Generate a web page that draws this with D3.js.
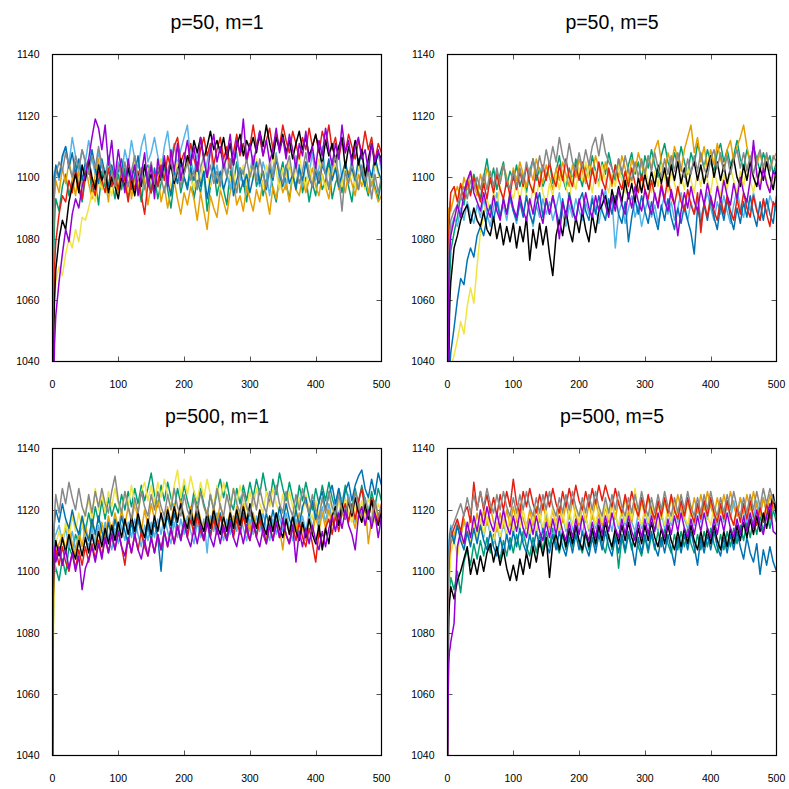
<!DOCTYPE html>
<html><head><meta charset="utf-8">
<script src="https://cdn.jsdelivr.net/npm/d3@7/dist/d3.min.js"></script>
<style>body{margin:0;background:#fff}svg{display:block}</style>
</head><body>
<script>
// shared x steps: 0..4 then every 5 to 500
const steps = [0,1,2,3,4].concat(d3.range(5, 501, 5));
const panelTitles = ["p=50, m=1", "p=50, m=5", "p=500, m=1", "p=500, m=5"];
const xTicks = [0,100,200,300,400,500];
const yTicks = [1040,1060,1080,1100,1120,1140];
const seriesNames = ["green","skyblue","orange","yellow","blue","red","black","gray","purple"];
const seriesColors = ["#009e73","#56b4e9","#e69f00","#f0e442","#0072b2","#e51e10","#000000","#888888","#9400d3"];

// ---- panel 1: p=50, m=1 ----
const p1_green = [1030,1060,1075,1085,1090,
1093,1089,1097,1101,1094,1099,1105,1096,1092,1100,
1104,1095,1099,1091,1102,1097,1106,1099,1093,1101,
1096,1103,1094,1099,1107,1098,1092,1100,1104,1095,
1101,1093,1098,1104,1096,1090,1099,1103,1095,1100,
1097,1104,1093,1099,1095,1102,1089,1097,1103,1094,
1100,1096,1091,1102,1098,1105,1095,1099,1092,1101,
1106,1097,1101,1094,1099,1103,1096,1092,1100,1105,
1098,1093,1101,1097,1104,1095,1100,1092,1098,1094,
1102,1096,1099,1105,1093,1098,1101,1095,1103,1097,
1092,1100,1096,1103,1098,1094,1101,1097,1093,1099];
const p1_skyblue = [1090,1099,1100,1102,1100,
1103,1099,1106,1110,1104,1113,1107,1102,1109,1105,
1112,1106,1101,1108,1104,1099,1107,1102,1097,1105,
1101,1109,1104,1112,1106,1103,1110,1114,1105,1108,
1113,1107,1102,1110,1115,1106,1111,1104,1109,1113,
1117,1106,1101,1108,1103,1099,1105,1110,1100,1104,
1098,1106,1101,1096,1104,1108,1099,1103,1095,1102,
1107,1100,1097,1105,1101,1094,1103,1108,1099,1102,
1096,1104,1100,1107,1102,1097,1105,1101,1108,1099,
1103,1110,1101,1097,1106,1102,1108,1099,1104,1100,
1106,1098,1103,1109,1101,1105,1097,1104,1108,1102];
const p1_orange = [1050,1080,1090,1094,1096,
1099,1095,1103,1098,1105,1100,1094,1102,1097,1104,
1098,1093,1101,1106,1096,1100,1092,1103,1098,1095,
1102,1097,1104,1093,1100,1096,1103,1099,1091,1098,
1095,1101,1092,1097,1090,1096,1099,1093,1088,1095,
1091,1097,1093,1086,1095,1089,1083,1094,1090,1087,
1096,1092,1088,1095,1099,1091,1094,1089,1097,1093,
1089,1096,1092,1099,1094,1088,1097,1093,1100,1095,
1098,1092,1101,1096,1094,1100,1095,1099,1103,1097,
1094,1101,1097,1093,1100,1104,1096,1099,1095,1102,
1098,1094,1101,1097,1103,1095,1099,1096,1092,1094];
const p1_yellow = [1020,1045,1055,1060,1063,
1066,1071,1068,1075,1080,1077,1083,1079,1087,1086,
1090,1095,1092,1099,1096,1103,1098,1094,1101,1097,
1104,1099,1095,1102,1106,1098,1101,1096,1103,1099,
1095,1102,1106,1099,1103,1097,1100,1105,1098,1102,
1107,1100,1096,1103,1099,1105,1101,1097,1104,1100,
1096,1103,1107,1099,1102,1095,1101,1104,1098,1103,
1099,1106,1101,1097,1104,1100,1108,1102,1096,1103,
1100,1105,1098,1103,1107,1101,1097,1104,1099,1102,
1106,1100,1096,1103,1099,1105,1101,1097,1104,1098,
1102,1097,1104,1100,1096,1103,1099,1105,1101,1098];
const p1_blue = [1040,1080,1095,1100,1102,
1104,1100,1107,1110,1103,1108,1101,1106,1099,1105,
1102,1109,1103,1098,1106,1101,1097,1104,1099,1102,
1106,1099,1103,1096,1101,1107,1098,1104,1100,1095,
1103,1097,1101,1106,1099,1094,1102,1098,1105,1100,
1096,1103,1099,1105,1097,1102,1093,1100,1104,1098,
1102,1096,1100,1106,1094,1099,1103,1097,1101,1095,
1100,1105,1098,1102,1096,1103,1099,1106,1101,1097,
1104,1098,1101,1096,1103,1099,1105,1100,1097,1102,
1098,1104,1101,1106,1099,1103,1097,1101,1105,1100,
1103,1099,1106,1101,1097,1104,1100,1107,1102,1099];
const p1_red = [1010,1040,1060,1070,1075,
1079,1088,1094,1092,1099,1095,1102,1097,1093,1101,
1105,1098,1094,1102,1099,1095,1103,1097,1101,1096,
1103,1099,1092,1100,1096,1102,1094,1088,1098,1095,
1101,1097,1104,1099,1107,1103,1110,1113,1105,1108,
1104,1111,1106,1102,1109,1113,1107,1111,1104,1109,
1113,1106,1110,1103,1108,1114,1107,1111,1105,1110,
1117,1110,1113,1107,1112,1116,1109,1114,1110,1117,
1112,1108,1115,1111,1106,1113,1109,1116,1110,1114,
1108,1115,1111,1117,1109,1113,1106,1112,1108,1114,
1110,1106,1112,1108,1115,1109,1113,1105,1111,1108];
const p1_black = [1000,1030,1050,1060,1065,
1070,1080,1086,1083,1092,1097,1101,1095,1104,1099,
1106,1100,1096,1104,1099,1102,1095,1100,1097,1093,
1100,1097,1103,1099,1094,1101,1097,1104,1098,1101,
1096,1103,1099,1105,1100,1104,1098,1102,1106,1101,
1107,1104,1112,1108,1113,1106,1110,1115,1109,1112,
1108,1113,1106,1111,1104,1110,1114,1107,1112,1109,
1113,1108,1115,1110,1117,1111,1106,1113,1109,1114,
1108,1112,1106,1111,1115,1109,1113,1107,1110,1114,
1109,1104,1112,1107,1111,1105,1110,1113,1103,1110,
1106,1112,1104,1109,1100,1106,1111,1104,1108,1106];
const p1_gray = [1040,1075,1090,1096,1099,
1101,1105,1102,1108,1104,1100,1107,1103,1109,1105,
1101,1107,1103,1110,1104,1099,1106,1102,1097,1104,
1100,1105,1097,1102,1107,1099,1103,1096,1101,1105,
1098,1103,1100,1095,1102,1106,1099,1103,1097,1101,
1105,1099,1102,1096,1103,1107,1100,1104,1098,1102,
1097,1104,1100,1106,1099,1095,1103,1101,1106,1100,
1104,1099,1106,1101,1097,1105,1100,1107,1102,1098,
1103,1107,1100,1104,1098,1102,1108,1101,1097,1104,
1099,1105,1101,1096,1103,1107,1100,1089,1102,1098,
1105,1100,1096,1104,1099,1102,1093,1101,1095,1100];
const p1_purple = [1000,1020,1035,1045,1050,
1055,1066,1075,1083,1079,1088,1093,1090,1097,1101,
1106,1113,1119,1116,1109,1117,1104,1112,1100,1109,
1102,1095,1106,1099,1104,1094,1101,1108,1097,1104,
1093,1106,1100,1107,1097,1109,1102,1111,1099,1106,
1112,1104,1110,1102,1113,1106,1100,1109,1114,1105,
1110,1103,1107,1114,1104,1112,1108,1119,1106,1111,
1104,1110,1115,1107,1112,1105,1109,1116,1108,1113,
1106,1114,1109,1103,1111,1107,1115,1105,1110,1103,
1112,1107,1116,1109,1104,1111,1106,1117,1108,1112,
1104,1110,1113,1106,1109,1102,1111,1105,1109,1104];

// ---- panel 2: p=50, m=5 ----
const p2_green = [1000,1030,1050,1065,1070,
1076,1082,1087,1094,1091,1098,1095,1101,1097,1093,
1100,1106,1098,1103,1096,1101,1105,1097,1102,1099,
1104,1097,1101,1095,1102,1106,1099,1103,1097,1100,
1105,1098,1102,1107,1100,1096,1103,1099,1106,1101,
1097,1104,1100,1107,1102,1098,1105,1101,1108,1103,
1099,1106,1102,1097,1104,1108,1101,1105,1099,1107,
1103,1109,1104,1100,1107,1111,1105,1102,1108,1104,
1110,1105,1101,1108,1104,1111,1107,1103,1109,1105,
1102,1108,1111,1105,1109,1104,1107,1112,1106,1103,
1109,1105,1110,1106,1102,1108,1104,1107,1101,1105];
const p2_skyblue = [1020,1050,1065,1075,1080,
1083,1087,1084,1090,1086,1092,1088,1085,1091,1087,
1093,1088,1084,1090,1095,1087,1091,1086,1093,1089,
1085,1092,1088,1094,1089,1084,1091,1087,1093,1088,
1092,1086,1090,1095,1088,1084,1091,1087,1093,1089,
1086,1092,1088,1094,1090,1085,1091,1096,1089,1093,
1077,1088,1092,1085,1090,1094,1087,1091,1084,1089,
1093,1087,1091,1085,1090,1094,1088,1092,1086,1090,
1095,1089,1086,1092,1088,1093,1087,1091,1095,1090,
1086,1092,1088,1094,1089,1085,1091,1096,1090,1087,
1093,1089,1095,1090,1086,1092,1088,1094,1091,1089];
const p2_orange = [1060,1085,1090,1088,1092,
1089,1094,1097,1093,1100,1096,1102,1098,1094,1101,
1097,1103,1099,1095,1102,1098,1104,1100,1096,1103,
1099,1105,1101,1097,1103,1099,1106,1102,1098,1104,
1100,1096,1103,1099,1105,1101,1097,1104,1100,1106,
1102,1098,1105,1101,1107,1103,1099,1105,1101,1097,
1104,1100,1107,1103,1099,1106,1102,1108,1104,1100,
1107,1103,1109,1112,1105,1101,1108,1104,1110,1106,
1102,1109,1113,1117,1108,1113,1105,1110,1103,1109,
1104,1111,1106,1102,1109,1112,1105,1110,1113,1117,
1110,1105,1109,1104,1108,1103,1107,1102,1106,1108];
const p2_yellow = [990,1005,1020,1030,1035,
1038,1042,1047,1053,1049,1058,1064,1059,1071,1082,
1088,1093,1089,1095,1091,1097,1092,1088,1096,1093,
1098,1092,1099,1094,1090,1097,1093,1100,1095,1091,
1098,1094,1101,1096,1102,1097,1093,1100,1096,1103,
1099,1105,1100,1095,1102,1097,1104,1099,1095,1101,
1097,1104,1099,1095,1102,1098,1104,1100,1096,1103,
1099,1095,1102,1097,1104,1100,1095,1102,1098,1094,
1101,1096,1103,1099,1095,1102,1097,1104,1099,1095,
1102,1098,1094,1101,1096,1103,1099,1095,1102,1097,
1104,1099,1095,1102,1098,1103,1099,1095,1101,1098];
const p2_blue = [990,1010,1025,1035,1040,
1043,1051,1060,1067,1065,1073,1077,1074,1081,1084,
1081,1087,1091,1086,1092,1087,1093,1088,1094,1089,
1086,1092,1087,1094,1088,1085,1091,1095,1087,1093,
1088,1094,1089,1085,1093,1087,1095,1090,1086,1092,
1095,1089,1086,1093,1088,1094,1089,1086,1093,1088,
1094,1088,1085,1092,1079,1087,1093,1088,1094,1089,
1085,1092,1087,1083,1091,1086,1093,1087,1083,1090,
1085,1091,1086,1082,1075,1090,1085,1091,1086,1093,
1087,1083,1091,1086,1093,1087,1083,1090,1085,1092,
1087,1094,1088,1084,1092,1086,1093,1088,1085,1094];
const p2_red = [1010,1050,1080,1088,1092,
1095,1097,1092,1098,1093,1099,1094,1100,1096,1092,
1098,1093,1100,1095,1101,1096,1093,1099,1094,1101,
1096,1102,1097,1104,1098,1095,1102,1097,1104,1099,
1105,1100,1097,1104,1099,1106,1100,1097,1104,1099,
1105,1100,1096,1103,1098,1105,1099,1096,1103,1098,
1104,1099,1096,1102,1097,1103,1098,1095,1101,1096,
1093,1099,1094,1091,1098,1093,1100,1094,1091,1097,
1092,1089,1096,1091,1088,1095,1082,1092,1087,1094,
1089,1086,1093,1088,1094,1089,1086,1093,1088,1095,
1090,1087,1094,1089,1086,1093,1088,1084,1092,1090];
const p2_black = [1000,1020,1040,1055,1062,
1066,1077,1081,1086,1089,1091,1085,1090,1086,1084,
1089,1083,1081,1087,1080,1085,1078,1084,1079,1085,
1077,1084,1079,1087,1073,1083,1077,1085,1078,1084,
1075,1068,1081,1086,1081,1089,1083,1079,1087,1082,
1089,1083,1079,1088,1082,1089,1091,1094,1088,1096,
1091,1097,1092,1099,1093,1098,1092,1100,1095,1101,
1096,1102,1097,1104,1098,1103,1097,1104,1099,1105,
1098,1103,1097,1102,1105,1099,1104,1098,1103,1107,
1100,1105,1099,1104,1098,1103,1106,1100,1097,1104,
1099,1105,1100,1097,1103,1099,1105,1100,1096,1103];
const p2_gray = [1030,1060,1075,1080,1083,
1086,1089,1091,1094,1097,1093,1099,1096,1100,1096,
1101,1096,1102,1097,1103,1098,1104,1099,1096,1102,
1097,1103,1098,1105,1100,1106,1101,1107,1102,1109,
1104,1110,1105,1113,1107,1104,1111,1105,1102,1108,
1103,1109,1104,1110,1113,1107,1114,1108,1105,1103,
1100,1106,1101,1107,1102,1099,1105,1100,1106,1101,
1107,1102,1108,1103,1100,1106,1101,1107,1102,1108,
1103,1100,1106,1101,1107,1102,1108,1103,1100,1106,
1109,1103,1108,1102,1107,1101,1106,1109,1103,1108,
1102,1107,1101,1106,1109,1103,1108,1102,1107,1105];
const p2_purple = [1000,1040,1065,1075,1078,
1081,1086,1091,1087,1095,1099,1102,1095,1092,1089,
1095,1090,1087,1094,1089,1086,1093,1088,1095,1090,
1087,1094,1089,1086,1093,1088,1095,1089,1085,1093,
1088,1094,1089,1080,1092,1087,1094,1089,1086,1093,
1088,1095,1090,1087,1094,1089,1096,1091,1087,1094,
1089,1096,1091,1088,1095,1090,1097,1092,1089,1096,
1091,1088,1095,1090,1097,1092,1089,1096,1091,1081,
1089,1095,1090,1097,1092,1089,1096,1091,1098,1093,
1090,1097,1092,1099,1094,1091,1098,1093,1100,1095,
1092,1099,1112,1101,1096,1103,1098,1095,1102,1100];

// ---- panel 3: p=500, m=1 ----
const p3_green = [1040,1080,1095,1100,1102,
1101,1097,1104,1099,1108,1105,1112,1109,1117,1113,
1119,1114,1121,1116,1123,1117,1124,1118,1122,1119,
1125,1120,1126,1121,1127,1122,1128,1123,1127,1132,
1125,1121,1128,1123,1129,1124,1120,1127,1122,1128,
1123,1119,1126,1121,1127,1122,1118,1125,1120,1126,
1130,1124,1129,1123,1120,1127,1122,1128,1123,1129,
1124,1130,1125,1132,1126,1122,1130,1125,1132,1127,
1123,1129,1124,1120,1128,1123,1129,1124,1120,1127,
1122,1128,1123,1129,1124,1120,1127,1122,1128,1123,
1120,1127,1122,1128,1123,1119,1126,1121,1127,1123];
const p3_skyblue = [1040,1095,1106,1110,1112,
1112,1115,1109,1114,1108,1113,1107,1112,1116,1111,
1108,1114,1109,1115,1110,1116,1111,1107,1114,1109,
1115,1110,1116,1111,1117,1112,1108,1115,1110,1116,
1111,1117,1112,1118,1113,1109,1116,1111,1117,1112,
1118,1113,1109,1116,1111,1117,1106,1118,1113,1119,
1114,1110,1117,1112,1118,1113,1119,1114,1110,1117,
1112,1118,1113,1119,1114,1110,1117,1112,1118,1113,
1119,1114,1110,1117,1112,1118,1113,1119,1114,1120,
1115,1121,1116,1122,1117,1123,1118,1124,1119,1125,
1120,1116,1123,1118,1124,1119,1115,1122,1117,1120];
const p3_orange = [1040,1080,1095,1100,1103,
1106,1109,1112,1107,1114,1109,1105,1113,1108,1115,
1110,1117,1112,1108,1116,1111,1118,1113,1119,1114,
1120,1115,1121,1116,1122,1117,1113,1120,1115,1122,
1117,1123,1118,1114,1121,1116,1122,1117,1123,1118,
1114,1121,1116,1122,1117,1113,1120,1115,1121,1116,
1122,1117,1113,1120,1115,1121,1116,1122,1117,1113,
1119,1114,1120,1115,1111,1118,1113,1119,1114,1107,
1117,1112,1118,1113,1119,1114,1110,1117,1112,1118,
1113,1119,1114,1120,1115,1121,1116,1122,1117,1123,
1118,1114,1121,1116,1122,1109,1117,1123,1118,1121];
const p3_yellow = [1040,1070,1090,1100,1105,
1109,1113,1109,1116,1111,1118,1113,1119,1114,1120,
1123,1117,1127,1120,1125,1119,1126,1121,1127,1122,
1119,1126,1121,1128,1122,1119,1126,1129,1123,1128,
1122,1129,1124,1130,1125,1121,1128,1133,1124,1130,
1125,1131,1126,1123,1129,1124,1130,1125,1121,1128,
1123,1129,1124,1121,1127,1122,1128,1123,1120,1126,
1121,1127,1122,1119,1126,1121,1127,1122,1119,1125,
1120,1126,1121,1118,1124,1119,1125,1120,1117,1123,
1118,1124,1119,1125,1120,1117,1123,1118,1124,1119,
1116,1122,1117,1123,1118,1124,1119,1116,1122,1119];
const p3_blue = [1040,1100,1113,1116,1118,
1120,1116,1122,1117,1114,1120,1115,1112,1118,1113,
1110,1117,1112,1118,1113,1109,1116,1111,1117,1112,
1118,1113,1109,1116,1111,1117,1112,1109,1115,1110,
1116,1111,1100,1114,1118,1113,1119,1114,1111,1117,
1112,1118,1113,1119,1114,1111,1117,1112,1118,1113,
1119,1114,1111,1117,1112,1118,1113,1119,1114,1120,
1115,1112,1118,1113,1119,1114,1120,1115,1121,1116,
1122,1117,1114,1120,1115,1121,1124,1118,1123,1117,
1123,1126,1120,1125,1128,1122,1127,1121,1126,1129,
1123,1128,1131,1133,1127,1124,1130,1125,1132,1128];
const p3_red = [1040,1090,1100,1103,1105,
1107,1102,1108,1103,1100,1106,1101,1107,1102,1108,
1103,1109,1104,1110,1105,1111,1106,1112,1107,1113,
1108,1102,1111,1106,1112,1107,1113,1108,1105,1111,
1106,1112,1107,1113,1108,1114,1109,1115,1110,1116,
1111,1117,1112,1118,1113,1110,1116,1111,1117,1112,
1118,1113,1110,1116,1111,1117,1112,1118,1113,1110,
1116,1111,1117,1112,1109,1115,1110,1116,1111,1117,
1112,1109,1115,1110,1116,1111,1108,1114,1109,1103,
1113,1108,1114,1117,1112,1118,1113,1119,1122,1116,
1122,1117,1123,1127,1120,1117,1124,1119,1116,1122];
const p3_black = [1040,1090,1102,1106,1108,
1110,1105,1111,1106,1112,1107,1104,1110,1105,1111,
1106,1112,1107,1113,1108,1114,1109,1115,1110,1116,
1111,1117,1112,1118,1113,1119,1114,1111,1117,1112,
1118,1113,1119,1114,1120,1115,1121,1116,1122,1117,
1114,1120,1115,1121,1116,1113,1119,1114,1120,1115,
1112,1118,1113,1119,1114,1120,1115,1121,1116,1122,
1117,1114,1120,1115,1112,1118,1113,1119,1114,1111,
1117,1112,1118,1113,1110,1116,1111,1117,1112,1109,
1115,1107,1114,1109,1118,1121,1115,1122,1117,1123,
1118,1124,1119,1116,1122,1117,1123,1118,1115,1119];
const p3_gray = [1040,1090,1110,1118,1122,
1125,1119,1127,1122,1129,1124,1120,1127,1121,1118,
1125,1119,1126,1121,1127,1122,1119,1126,1131,1123,
1119,1126,1121,1117,1124,1119,1126,1121,1118,1125,
1120,1126,1121,1118,1125,1120,1127,1121,1118,1125,
1120,1117,1124,1119,1126,1121,1118,1125,1120,1127,
1121,1118,1125,1120,1127,1122,1119,1126,1121,1118,
1125,1120,1127,1122,1119,1126,1121,1128,1122,1119,
1126,1121,1118,1125,1120,1127,1122,1119,1125,1120,
1117,1124,1119,1126,1121,1118,1125,1120,1117,1124,
1119,1126,1121,1118,1124,1119,1116,1123,1118,1121];
const p3_purple = [1040,1095,1105,1108,1106,
1103,1108,1102,1107,1101,1106,1100,1105,1094,1101,
1104,1108,1103,1109,1104,1111,1106,1112,1107,1113,
1108,1105,1111,1106,1112,1107,1104,1110,1105,1111,
1106,1112,1107,1113,1108,1114,1109,1115,1110,1116,
1111,1108,1114,1109,1115,1110,1116,1111,1108,1114,
1109,1115,1110,1116,1111,1108,1114,1109,1115,1110,
1116,1111,1108,1114,1109,1115,1110,1116,1111,1117,
1112,1109,1115,1103,1113,1108,1114,1109,1115,1110,
1107,1113,1108,1114,1118,1113,1119,1114,1120,1115,
1112,1107,1118,1121,1115,1120,1114,1119,1111,1118];

// ---- panel 4: p=500, m=5 ----
const p4_green = [1040,1080,1090,1094,1096,
1098,1094,1100,1093,1103,1107,1102,1109,1104,1110,
1105,1111,1106,1112,1107,1104,1110,1105,1111,1106,
1112,1107,1113,1108,1105,1111,1106,1112,1107,1113,
1108,1114,1109,1106,1112,1107,1113,1108,1114,1109,
1106,1112,1107,1113,1108,1114,1109,1106,1112,1107,
1113,1101,1111,1106,1112,1107,1113,1108,1105,1111,
1106,1112,1107,1113,1108,1114,1109,1106,1112,1107,
1113,1108,1114,1109,1106,1112,1107,1113,1108,1114,
1109,1106,1112,1107,1113,1108,1114,1109,1115,1110,
1116,1111,1117,1112,1118,1113,1119,1114,1120,1116];
const p4_skyblue = [1040,1095,1108,1112,1113,
1115,1110,1116,1111,1117,1112,1109,1115,1110,1116,
1111,1117,1112,1109,1115,1110,1116,1111,1117,1112,
1118,1113,1110,1116,1111,1117,1112,1118,1113,1119,
1114,1111,1117,1112,1118,1113,1119,1114,1111,1117,
1112,1118,1113,1119,1114,1120,1115,1112,1118,1113,
1119,1114,1120,1115,1121,1116,1113,1119,1114,1120,
1115,1121,1116,1113,1119,1114,1120,1115,1121,1116,
1122,1117,1114,1120,1115,1121,1116,1122,1117,1123,
1118,1115,1121,1116,1122,1117,1123,1118,1124,1119,
1116,1122,1117,1123,1118,1124,1119,1116,1122,1119];
const p4_orange = [1040,1085,1095,1100,1105,
1109,1112,1115,1111,1117,1112,1118,1113,1119,1114,
1120,1115,1121,1116,1113,1119,1114,1120,1115,1121,
1116,1122,1117,1114,1120,1115,1121,1116,1122,1117,
1114,1120,1115,1121,1116,1122,1117,1123,1118,1115,
1121,1116,1122,1117,1123,1118,1115,1121,1116,1122,
1117,1123,1118,1124,1119,1116,1122,1117,1123,1118,
1124,1119,1116,1122,1117,1123,1118,1124,1119,1125,
1120,1117,1123,1118,1124,1119,1125,1120,1126,1121,
1118,1124,1119,1125,1120,1126,1121,1118,1124,1119,
1125,1120,1126,1121,1118,1124,1119,1125,1120,1123];
const p4_yellow = [1040,1080,1092,1098,1102,
1106,1110,1105,1112,1107,1114,1109,1116,1111,1117,
1112,1118,1113,1110,1116,1111,1117,1112,1118,1113,
1119,1114,1120,1115,1112,1118,1113,1119,1114,1120,
1115,1121,1116,1113,1119,1114,1120,1115,1121,1116,
1122,1117,1114,1120,1115,1121,1116,1122,1117,1123,
1118,1115,1121,1116,1122,1117,1127,1118,1115,1121,
1116,1122,1117,1114,1120,1115,1121,1116,1122,1117,
1123,1118,1115,1121,1116,1122,1117,1123,1118,1115,
1121,1116,1122,1117,1123,1118,1115,1121,1116,1122,
1117,1123,1118,1115,1121,1116,1122,1117,1123,1119];
const p4_blue = [1040,1095,1105,1110,1112,
1114,1109,1115,1110,1107,1113,1108,1114,1109,1115,
1110,1107,1113,1108,1105,1111,1106,1112,1107,1113,
1108,1114,1109,1106,1112,1107,1113,1108,1114,1109,
1106,1112,1107,1113,1108,1105,1111,1106,1112,1107,
1113,1108,1105,1111,1106,1112,1107,1113,1108,1105,
1111,1106,1112,1107,1113,1108,1102,1111,1106,1112,
1107,1113,1108,1105,1111,1106,1112,1107,1102,1111,
1106,1112,1107,1113,1108,1102,1111,1106,1112,1107,
1113,1108,1105,1111,1106,1112,1107,1113,1108,1104,
1111,1106,1103,1109,1099,1107,1102,1108,1103,1100];
const p4_red = [1040,1090,1100,1105,1108,
1111,1114,1117,1113,1119,1121,1116,1129,1120,1126,
1120,1125,1119,1124,1118,1125,1120,1126,1121,1130,
1122,1119,1126,1121,1127,1122,1119,1125,1120,1126,
1121,1127,1122,1119,1126,1121,1127,1122,1128,1123,
1120,1126,1121,1127,1122,1128,1123,1128,1124,1121,
1127,1122,1119,1125,1120,1126,1121,1118,1124,1119,
1125,1120,1117,1123,1118,1124,1119,1125,1120,1117,
1123,1118,1124,1119,1116,1122,1117,1123,1118,1124,
1119,1116,1122,1117,1123,1118,1115,1121,1116,1122,
1117,1123,1118,1115,1121,1116,1122,1117,1123,1120];
const p4_black = [1040,1070,1085,1090,1092,
1095,1091,1097,1100,1104,1108,1099,1104,1099,1105,
1100,1106,1109,1103,1108,1102,1107,1101,1097,1102,
1097,1104,1099,1106,1101,1108,1103,1110,1105,1111,
1098,1109,1112,1107,1113,1108,1114,1109,1115,1110,
1107,1113,1108,1114,1109,1115,1110,1116,1111,1108,
1114,1109,1115,1110,1116,1111,1108,1114,1109,1115,
1110,1116,1111,1108,1114,1109,1115,1110,1107,1113,
1108,1114,1109,1115,1110,1107,1113,1108,1114,1109,
1115,1110,1107,1113,1108,1114,1109,1115,1110,1116,
1111,1117,1112,1118,1113,1119,1114,1120,1125,1118];
const p4_gray = [1040,1095,1105,1108,1110,
1113,1116,1119,1122,1118,1124,1119,1125,1120,1126,
1121,1127,1122,1119,1125,1120,1126,1121,1118,1124,
1119,1125,1120,1126,1121,1118,1124,1119,1125,1120,
1126,1121,1118,1124,1119,1125,1120,1126,1121,1118,
1124,1119,1125,1120,1126,1121,1118,1124,1119,1125,
1120,1126,1121,1118,1124,1119,1125,1120,1126,1121,
1118,1124,1119,1125,1120,1126,1121,1118,1124,1119,
1125,1120,1126,1121,1118,1124,1119,1125,1120,1126,
1121,1118,1124,1119,1125,1120,1126,1121,1118,1124,
1119,1125,1120,1126,1121,1127,1122,1127,1123,1122];
const p4_purple = [1040,1060,1070,1074,1075,
1077,1083,1108,1113,1109,1116,1111,1118,1113,1120,
1115,1121,1116,1113,1119,1114,1120,1115,1112,1118,
1113,1119,1114,1111,1117,1112,1118,1113,1110,1116,
1111,1117,1112,1118,1113,1110,1116,1111,1117,1112,
1118,1113,1110,1116,1111,1117,1112,1118,1113,1119,
1114,1111,1117,1112,1118,1113,1110,1116,1111,1117,
1112,1118,1113,1119,1114,1111,1117,1112,1118,1113,
1119,1114,1111,1117,1112,1118,1113,1119,1114,1111,
1117,1112,1118,1113,1119,1114,1111,1117,1112,1118,
1113,1119,1114,1120,1115,1112,1118,1122,1113,1112];

const panelSeries = [
  [p1_green,p1_skyblue,p1_orange,p1_yellow,p1_blue,p1_red,p1_black,p1_gray,p1_purple],
  [p2_green,p2_skyblue,p2_orange,p2_yellow,p2_blue,p2_red,p2_black,p2_gray,p2_purple],
  [p3_green,p3_skyblue,p3_orange,p3_yellow,p3_blue,p3_red,p3_black,p3_gray,p3_purple],
  [p4_green,p4_skyblue,p4_orange,p4_yellow,p4_blue,p4_red,p4_black,p4_gray,p4_purple]
];

const W = 789, H = 789;
const svg = d3.select("body").append("svg").attr("width", W).attr("height", H)
  .style("font-family", "'Liberation Sans', Arial, sans-serif");

const frames = [
  {x0:52.5, x1:381.5, y0:54.5, y1:361.5, tY:29},
  {x0:447.5, x1:776.5, y0:54.5, y1:361.5, tY:29},
  {x0:52.5, x1:381.5, y0:448.5, y1:755.5, tY:423},
  {x0:447.5, x1:776.5, y0:448.5, y1:755.5, tY:423}
];

frames.forEach((f, i) => {
  const x = d3.scaleLinear().domain([0, 500]).range([f.x0, f.x1]);
  const y = d3.scaleLinear().domain([1040, 1140]).range([f.y1, f.y0]);
  const g = svg.append("g");
  const cid = "clip" + i;
  svg.append("clipPath").attr("id", cid).append("rect")
    .attr("x", f.x0).attr("y", f.y0).attr("width", f.x1 - f.x0).attr("height", f.y1 - f.y0);

  // ticks (inward, mirrored)
  const tl = 5;
  const tg = g.append("g").attr("stroke", "#555").attr("stroke-width", 1);
  xTicks.forEach(t => {
    const xx = Math.round(x(t)) + 0.5;
    if (t > 0 && t < 500) {
      tg.append("line").attr("x1", xx).attr("x2", xx).attr("y1", f.y1).attr("y2", f.y1 - tl);
      tg.append("line").attr("x1", xx).attr("x2", xx).attr("y1", f.y0).attr("y2", f.y0 + tl);
    }
  });
  yTicks.forEach(t => {
    const yy = Math.round(y(t)) + 0.5;
    if (t > 1040 && t < 1140) {
      tg.append("line").attr("x1", f.x0).attr("x2", f.x0 + tl).attr("y1", yy).attr("y2", yy);
      tg.append("line").attr("x1", f.x1).attr("x2", f.x1 - tl).attr("y1", yy).attr("y2", yy);
    }
  });

  // lines
  const line = d3.line().x((d, k) => x(steps[k])).y(d => y(d));
  const lg = g.append("g").attr("clip-path", `url(#${cid})`);
  panelSeries[i].forEach((s, k) => {
    lg.append("path").datum(s).attr("d", line)
      .attr("fill", "none").attr("stroke", seriesColors[k])
      .attr("stroke-width", 1.5).attr("stroke-linejoin", "round");
  });

  // frame
  g.append("rect").attr("x", f.x0).attr("y", f.y0)
    .attr("width", f.x1 - f.x0).attr("height", f.y1 - f.y0)
    .attr("fill", "none").attr("stroke", "#000").attr("stroke-width", 1.2);

  // tick labels
  const lab = g.append("g").attr("font-size", 10.5).attr("fill", "#000");
  xTicks.forEach(t => {
    lab.append("text").attr("x", x(t)).attr("y", f.y1 + 26).attr("text-anchor", "middle").text(t);
  });
  yTicks.forEach(t => {
    lab.append("text").attr("x", f.x0 - 13).attr("y", y(t) + 3.8).attr("text-anchor", "end").text(t);
  });

  // title
  g.append("text").attr("x", (f.x0 + f.x1) / 2).attr("y", f.tY)
    .attr("text-anchor", "middle").attr("font-size", 19.5).attr("fill", "#000")
    .text(panelTitles[i]);
});
</script>
</body></html>
